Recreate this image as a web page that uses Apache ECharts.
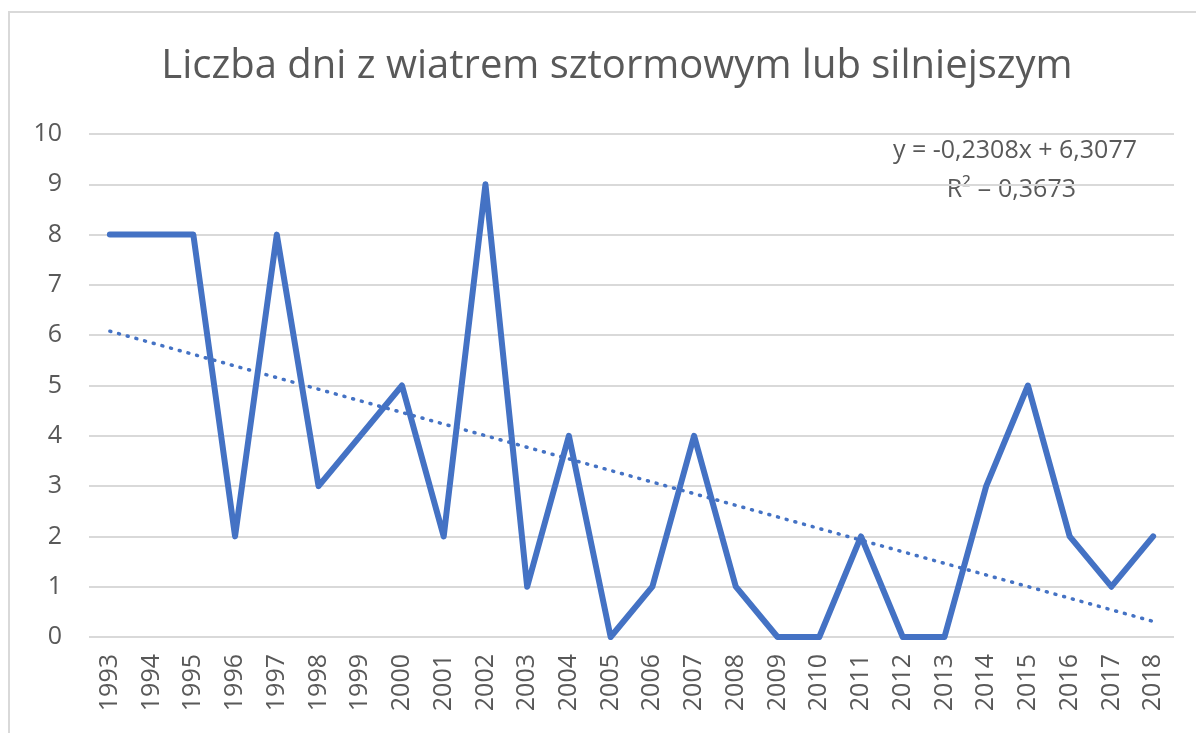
<!DOCTYPE html>
<html>
<head>
<meta charset="utf-8">
<script src="https://cdn.jsdelivr.net/npm/echarts@6/dist/echarts.min.js"></script>
<style>
    html, body { margin: 0; padding: 0; background: #fff; }
    #chart { width: 1196px; height: 733px; }
</style>
</head>
<body>
<div id="chart"></div>
<script>
// lata i liczba dni
const years = ['1993', '1994', '1995', '1996', '1997', '1998', '1999', '2000', '2001', '2002',
    '2003', '2004', '2005', '2006', '2007', '2008', '2009', '2010', '2011', '2012',
    '2013', '2014', '2015', '2016', '2017', '2018'];
const stormDays = [8, 8, 8, 2, 8, 3, 4, 5, 2, 9, 1, 4, 0, 1, 4, 1, 0, 0, 2, 0, 0, 3, 5, 2, 1, 2];
// linia trendu: wartości na poczatku i na koncu
const trendEnds = [6.08, 0.31];
const trendLabel = ['y = -0,2308x + 6,3077', 'R² = 0,3673'];

const textColor = '#595959';
const font = 'Open Sans';

const trendData = years.map((y, i) => {
    if (i === 0) return trendEnds[0];
    if (i === years.length - 1) return trendEnds[1];
    return null;
});

const chart = echarts.init(document.getElementById('chart'));
chart.setOption({
    backgroundColor: '#fff',
    animation: false,
    title: {
        text: 'Liczba dni z wiatrem sztormowym lub silniejszym',
        left: 612,
        textAlign: 'center',
        top: 42,
        textStyle: {
            color: textColor,
            fontFamily: font,
            fontWeight: 'normal',
            fontSize: 40
        }
    },
    graphic: [
        {
            type: 'rect',
            shape: { x: 9, y: 12, width: 1300, height: 900 },
            style: { fill: null, stroke: '#d9d9d9', lineWidth: 2 },
            silent: true
        },
        {
            type: 'text',
            right: 59,
            top: 138,
            style: { text: trendLabel[0], fill: textColor, font: '25px "' + font + '"' }
        },
        {
            type: 'text',
            right: 120,
            top: 177,
            style: { text: trendLabel[1], fill: textColor, font: '25px "' + font + '"' }
        }
    ],
    grid: {
        left: 89,
        right: 22,
        top: 134,
        bottom: 96
    },
    xAxis: {
        type: 'category',
        data: years,
        boundaryGap: true,
        axisLine: { show: false },
        axisTick: { show: false },
        axisLabel: {
            rotate: 90,
            interval: 0,
            margin: 17,
            color: textColor,
            fontFamily: font,
            fontSize: 25
        }
    },
    yAxis: {
        type: 'value',
        min: 0,
        max: 10,
        interval: 1,
        axisLine: { show: false },
        axisTick: { show: false },
        axisLabel: {
            margin: 27,
            color: textColor,
            fontFamily: font,
            fontSize: 25
        },
        splitLine: {
            lineStyle: { color: '#d9d9d9', width: 2 }
        }
    },
    series: [
        {
            type: 'line',
            data: stormDays,
            symbol: 'none',
            lineStyle: { color: '#4472C4', width: 6, join: 'round', cap: 'round' },
            z: 3
        },
        {
            type: 'line',
            data: trendData,
            connectNulls: true,
            symbol: 'none',
            lineStyle: { color: '#4472C4', width: 3.5, type: [1, 8], cap: 'round' },
            z: 2
        }
    ]
});
</script>
</body>
</html>
